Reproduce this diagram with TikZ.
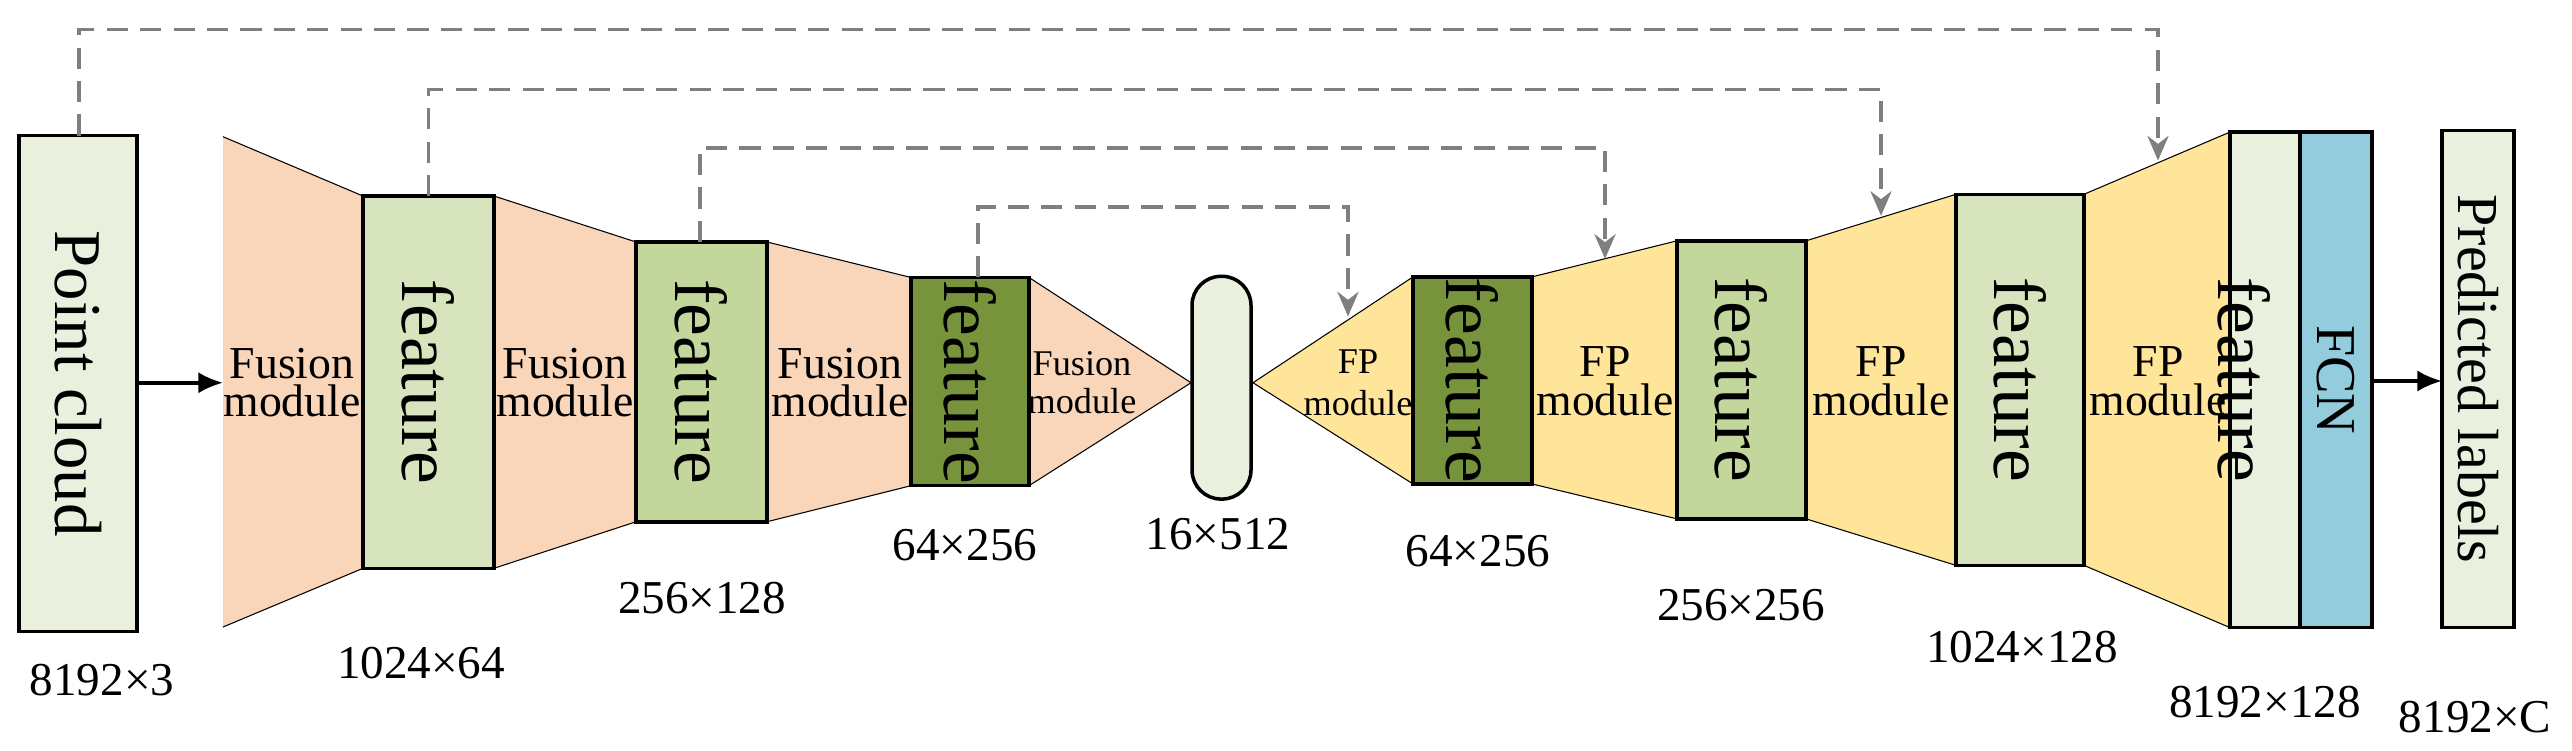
\documentclass[tikz,border=0pt]{standalone}
\usepackage{fontspec}
\setmainfont{Liberation Serif}
\usepackage{graphicx}
\usetikzlibrary{arrows.meta}
\definecolor{pc}{HTML}{EAF0DE}
\definecolor{fus}{HTML}{F9D5B9}
\definecolor{fA}{HTML}{D7E4BD}
\definecolor{fB}{HTML}{C3D69B}
\definecolor{fC}{HTML}{77933C}
\definecolor{fp}{HTML}{FFE599}
\definecolor{fcn}{HTML}{93CDDD}
\definecolor{dgray}{HTML}{7F7F7F}
\tikzset{
 box/.style={draw=black,line width=1pt},
 edge/.style={line width=0.3pt},
 skip/.style={draw=dgray,dashed,dash pattern=on 6pt off 3.5pt,line width=1pt},
 skipa/.style={skip,-{Stealth[length=7pt,width=6pt,fill=dgray]}},
 arr/.style={line width=1pt,-{Latex[length=7pt,width=6pt]}},
 lbl/.style={inner sep=0pt}
}
\newcommand{\hx}[2]{\fontsize{#1}{#1}\selectfont #2}
\newcommand{\vx}[2]{\fontsize{#1}{#1}\selectfont #2}
% \bx{name}{x1}{y1}{x2}{y2}{fill}
\newcommand{\bx}[6]{%
  \draw[box,fill=#6] (#2,#3) rectangle (#4,#5);
  \coordinate (#1-c) at ({(#2+#4)/2},{(#3+#5)/2});
  \coordinate (#1-n) at ({(#2+#4)/2},#3);
  \coordinate (#1-w) at (#2,{(#3+#5)/2});
  \coordinate (#1-e) at (#4,{(#3+#5)/2});}
\begin{document}
\begin{tikzpicture}[x=0.01cm,y=-0.00581cm]
\useasboundingbox (0,0) rectangle (2572,1291);
% trapezoids
\fill[fus] (223,235) -- (363,337) -- (363,977) -- (223,1078) -- cycle;
\draw[edge] (223,235) -- (363,337) (363,977) -- (223,1078);
\fill[fus] (494,337) -- (636,416) -- (636,897) -- (494,977) -- cycle;
\draw[edge] (494,337) -- (636,416) (636,897) -- (494,977);
\fill[fus] (767,416) -- (911,477) -- (911,835) -- (767,897) -- cycle;
\draw[edge] (767,416) -- (911,477) (911,835) -- (767,897);
\fill[fus] (1029,477) -- (1191,658) -- (1029,835) -- cycle;
\draw[edge] (1029,477) -- (1191,658) -- (1029,835);
\fill[fp] (1253,658) -- (1413,476) -- (1413,832) -- cycle;
\draw[edge] (1413,476) -- (1253,658) -- (1413,832);
\fill[fp] (1532,476) -- (1677,414) -- (1677,892) -- (1532,832) -- cycle;
\draw[edge] (1532,476) -- (1677,414) (1677,892) -- (1532,832);
\fill[fp] (1806,414) -- (1956,334) -- (1956,972) -- (1806,892) -- cycle;
\draw[edge] (1806,414) -- (1956,334) (1956,972) -- (1806,892);
\fill[fp] (2084,334) -- (2230,227) -- (2230,1079) -- (2084,972) -- cycle;
\draw[edge] (2084,334) -- (2230,227) (2230,1079) -- (2084,972);
% boxes
\bx{pc}{19}{233}{137}{1086}{pc}
\bx{f1}{363}{337}{494}{977}{fA}
\bx{f2}{636}{416}{767}{897}{fB}
\bx{f3}{911}{477}{1029}{835}{fC}
\draw[box,fill=pc,rounded corners=0.29cm] (1192,475) rectangle (1251,858);
\bx{f4}{1413}{476}{1532}{832}{fC}
\bx{f5}{1677}{414}{1806}{892}{fB}
\bx{f6}{1956}{334}{2084}{972}{fA}
\bx{f7}{2230}{227}{2300}{1079}{pc}
\bx{fcn}{2300}{227}{2372}{1079}{fcn}
\bx{pl}{2442}{224}{2514}{1079}{pc}
\node[lbl,rotate=-90] (tpc) at (pc-c) {\fontsize{19pt}{19pt}\selectfont Point cloud};
\foreach \n/\d in {f1/0,f2/0,f3/0,f4/0,f5/0,f6/0,f7/-6}
  \node[lbl,rotate=-90] at ([xshift=\d]\n-c) {\vx{21pt}{feature}};
\node[lbl,rotate=-90] (tfcn) at (fcn-c) {\fontsize{16pt}{16pt}\selectfont FCN};
\node[lbl,rotate=-90] (tpl) at (pl-c) {\fontsize{16.5pt}{16.5pt}\selectfont Predicted labels};
% module texts
\foreach \x/\t in {292/Fusion,565/Fusion,840/Fusion}
  \node[lbl,align=center] at (\x,658) {\hx{13pt}{\t}\\[-1pt]\hx{13pt}{module}};
\node[lbl,align=center] at (1082,658) {\hx{10.3pt}{Fusion}\\[-1pt]\hx{10.3pt}{module}};
\node[lbl,align=center] at (1358,658) {\hx{10.3pt}{FP}\\[0pt]\hx{10.3pt}{module}};
\foreach \x in {1605,1881,2158}
  \node[lbl,align=center] at (\x,655) {\hx{13pt}{FP}\\[-1pt]\hx{13pt}{module}};
% size labels
\node[lbl] at (102,1169) {\hx{13.4pt}{8192×3}};
\node[lbl] at (421,1140) {\hx{13.4pt}{1024×64}};
\node[lbl] at (702,1029) {\hx{13.4pt}{256×128}};
\node[lbl] at (965,938) {\hx{13.4pt}{64×256}};
\node[lbl] at (1218,919) {\hx{13.4pt}{16×512}};
\node[lbl] at (1478,948) {\hx{13.4pt}{64×256}};
\node[lbl] at (1741,1040) {\hx{13.4pt}{256×256}};
\node[lbl] at (2022,1112) {\hx{13.4pt}{1024×128}};
\node[lbl] at (2265,1207) {\hx{13.4pt}{8192×128}};
\node[lbl] at (2475,1232) {\hx{13.4pt}{8192×C}};
% arrows
\coordinate (t1) at (223,658);
\draw[arr] (pc-e |- t1) -- (t1);
\draw[arr] (fcn-e |- 0,655) -- (pl-w |- 0,655);
% skip connections
\coordinate (e1) at (1348,544);
\coordinate (e2) at (1605,445);
\coordinate (e3) at (1881,371);
\coordinate (e4) at (2158,276);
\coordinate (pcs) at (79,233);
\draw[skipa] (978,477) -- (978,356) -- (1348,356) -- (e1);
\draw[skipa] (700,416) -- (700,254) -- (1605,254) -- (e2);
\draw[skipa] (f1-n) -- (f1-n |- 0,154) -- (1881,154) -- (e3);
\draw[skipa] (pcs) -- (79,51) -- (2158,51) -- (e4);
\end{tikzpicture}
\end{document}
